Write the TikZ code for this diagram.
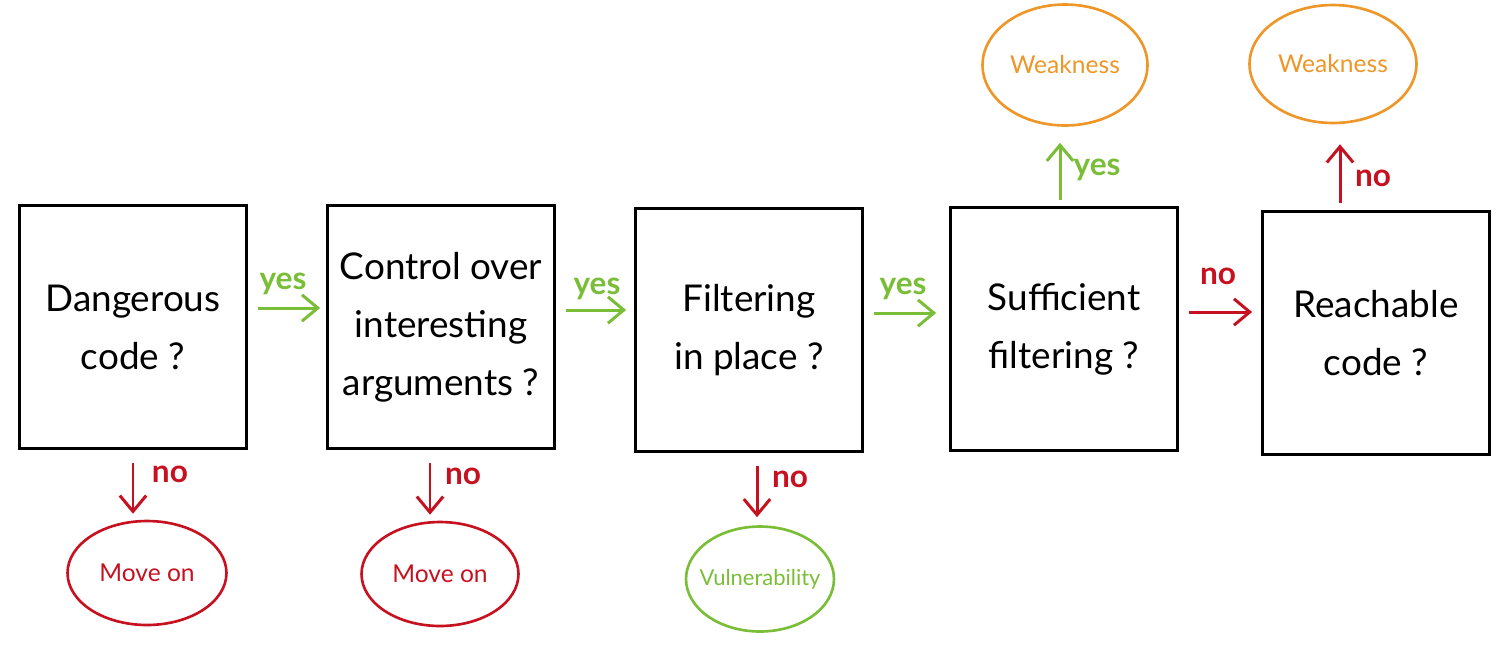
\documentclass[tikz,border=0pt]{standalone}
\usepackage{fontspec}
\setmainfont{Lato}
\usetikzlibrary{arrows.meta}
\usetikzlibrary{shapes.geometric}
\usetikzlibrary{calc}
\definecolor{okgreen}{RGB}{122,190,56}
\definecolor{nored}{RGB}{198,18,32}
\definecolor{warnorange}{RGB}{238,150,40}
\newcommand{\tag}[1]{\makebox[0pt]{#1}}

\begin{document}
\begin{tikzpicture}[x=0.02cm,y=-0.02cm]
\tikzset{question/.style={draw=black, line width=1.6pt, minimum width=4.54cm, minimum height=4.86cm, align=center, font=\fontsize{21}{33}\selectfont}}
\tikzset{outcome/.style={ellipse, line width=1.5pt, inner sep=0pt, font=\fontsize{14}{18}\selectfont}}
\tikzset{answer/.style={font=\fontsize{18}{20}\selectfont\bfseries}}
\tikzstyle{pointer} = [-{Straight Barb[length=9pt,width=15pt]}, line width=1.7pt]

\useasboundingbox (0,0) rectangle (1501,647);

% questions
\node[question] (q1) at (133,327) {Dangerous\\code ?};
\node[question] (q2) at (441,327) {Control over\\interesting\\arguments ?};
\node[question] (q3) at (749,330) {Filtering\\in place ?};
\node[question] (q4) at (1064,329) {Sufficient\\filtering ?};
\node[question] (q5) at (1376,333) {Reachable\\code ?};

% outcomes
\node[outcome, draw=nored, text=nored, minimum width=3.18cm, minimum height=2.08cm] (m1) at (147,573) {\tag{Move on}};
\node[outcome, draw=nored, text=nored, minimum width=3.14cm, minimum height=2.08cm] (m2) at (440,574) {\tag{Move on}};
\node[outcome, draw=okgreen, text=okgreen, minimum width=2.96cm, minimum height=2.1cm, font=\fontsize{12.5}{16}\selectfont] (vul) at (760,579) {\tag{Vulnerability}};
\node[outcome, draw=warnorange, text=warnorange, minimum width=3.3cm, minimum height=2.42cm] (w1) at (1065,65) {\tag{Weakness}};
\node[outcome, draw=warnorange, text=warnorange, minimum width=3.34cm, minimum height=2.36cm] (w2) at (1333,64) {\tag{Weakness}};

% yes / no along the chain
\draw[pointer, okgreen, shorten <=10*0.02cm, shorten >=6*0.02cm] ($(q1.east)+(0,-19)$) -- ($(q2.west)+(0,-19)$);
\draw[pointer, okgreen, shorten <=10*0.02cm, shorten >=8*0.02cm] ($(q2.east)+(0,-17)$) -- ($(q3.west)+(0,-20)$);
\draw[pointer, okgreen, shorten <=10*0.02cm, shorten >=13*0.02cm] ($(q3.east)+(0,-17)$) -- ($(q4.west)+(0,-16)$);
\draw[pointer, nored, shorten <=10*0.02cm, shorten >=9*0.02cm] ($(q4.east)+(0,-17)$) -- ($(q5.west)+(0,-21)$);
\node[answer, text=okgreen] (a1) at (283,284) {yes};
\node[answer, text=okgreen] (a2) at (597,289) {yes};
\node[answer, text=okgreen] (a3) at (903,289) {yes};
\node[answer, text=nored] (a4) at (1218,276) {no};

% downwards
\draw[pointer, nored, shorten <=13*0.02cm, shorten >=6*0.02cm] (q1.south) -- (m1.north -| q1.south);
\draw[pointer, nored, shorten <=13*0.02cm, shorten >=6*0.02cm] ($(q2.south)+(-11,0)$) -- (m2.north -| {$(q2.south)+(-11,0)$});
\draw[pointer, nored, shorten <=13*0.02cm, shorten >=8*0.02cm] ($(q3.south)+(8,0)$) -- (vul.north -| {$(q3.south)+(8,0)$});
\node[answer, text=nored] (a5) at (170,474) {no};
\node[answer, text=nored] (a6) at (463,476) {no};
\node[answer, text=nored] (a7) at (790,479) {no};

% upwards
\draw[pointer, okgreen, shorten <=6*0.02cm, shorten >=16*0.02cm] ($(q4.north)+(-4,0)$) -- (w1.south -| {$(q4.north)+(-4,0)$});
\draw[pointer, nored, shorten <=7*0.02cm, shorten >=20*0.02cm] ($(q5.north)+(-36,0)$) -- (w2.south -| {$(q5.north)+(-36,0)$});
\node[answer, text=okgreen] (a8) at (1097,170) {yes};
\node[answer, text=nored] (a9) at (1373,178) {no};
\end{tikzpicture}
\end{document}
